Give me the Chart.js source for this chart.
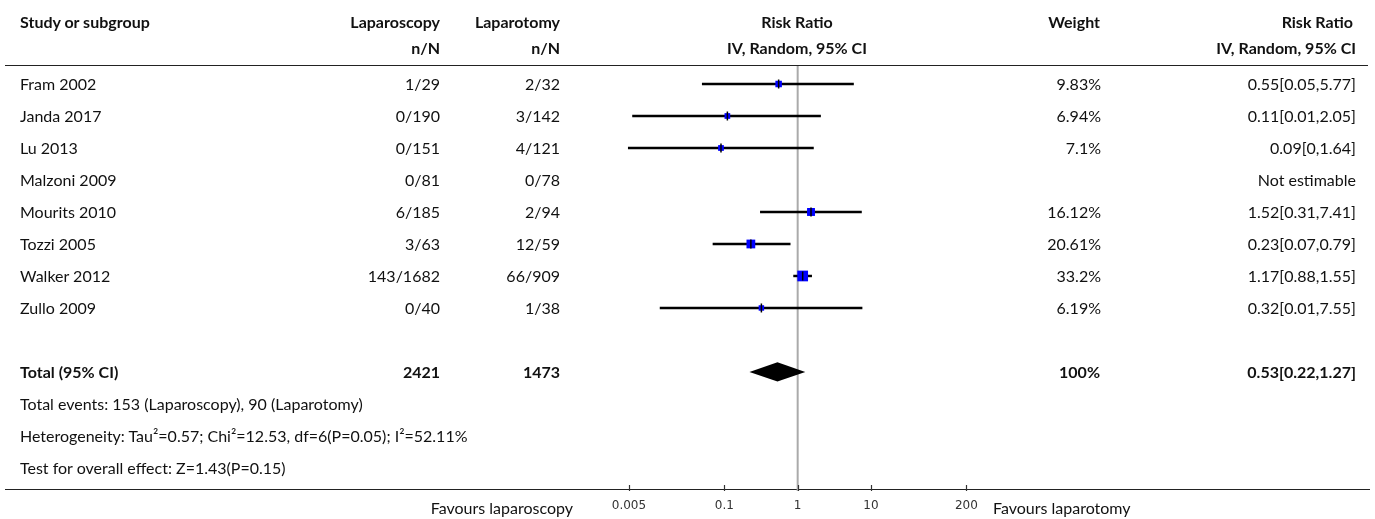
<!DOCTYPE html>
<html>
<head>
<meta charset="utf-8">
<script src="https://cdn.jsdelivr.net/npm/chart.js@4/dist/chart.umd.min.js"></script>
<style>
  body { margin: 0; background: #fff; }
  #wrap { position: relative; width: 1375px; height: 519px; overflow: hidden; font-family: Lato, "Noto Sans", sans-serif; font-size: 16px; color: #111; }
  #plot { position: absolute; left: 0; top: 0; }
  .t { position: absolute; height: 20px; line-height: 20px; white-space: nowrap; }
  .b { font-weight: bold; }
  .hr { position: absolute; height: 0; border-top: 1.5px solid #222; }
</style>
</head>
<body>
<div id="wrap">
  <div class="hr" style="left:5px;width:1363px;top:65px"></div>
  <div class="hr" style="left:5px;width:1365px;top:489px"></div>
  <canvas id="plot" width="1375" height="519"></canvas>
</div>
<script>
const studies = ["Fram 2002", "Janda 2017", "Lu 2013", "Malzoni 2009", "Mourits 2010", "Tozzi 2005", "Walker 2012", "Zullo 2009"];
const lapEvents = [1, 0, 0, 0, 6, 3, 143, 0];
const lapTotal = [29, 190, 151, 81, 185, 63, 1682, 40];
const tomyEvents = [2, 3, 4, 0, 2, 12, 66, 1];
const tomyTotal = [32, 142, 121, 78, 94, 59, 909, 38];
const weights = [9.83, 6.94, 7.1, null, 16.12, 20.61, 33.2, 6.19];
const riskRatio = [0.55, 0.11, 0.09, null, 1.52, 0.23, 1.17, 0.32];
const ciLow = [0.05, 0.0056, 0.0049, null, 0.31, 0.07, 0.88, 0.0133];
const ciHigh = [5.77, 2.05, 1.64, null, 7.41, 0.79, 1.55, 7.55];
const xTicks = [0.005, 0.1, 1, 10, 200];

const total = { lap: 2421, tomy: 1473, weight: 100, rr: 0.53, low: 0.22, high: 1.27 };
const totalRow = 9;
const footLines = [
  "Total events: 153 (Laparoscopy), 90 (Laparotomy)",
  "Heterogeneity: Tau\u00b2=0.57; Chi\u00b2=12.53, df=6(P=0.05); I\u00b2=52.11%",
  "Test for overall effect: Z=1.43(P=0.15)"
];

const fmt = (v) => String(Number(v.toFixed(2)));
const ciText = (i) => riskRatio[i] === null ? "Not estimable"
  : `${fmt(riskRatio[i])}[${fmt(ciLow[i])},${fmt(ciHigh[i])}]`;

const rows = studies.map((s, i) => i);
const withData = rows.filter((i) => riskRatio[i] !== null);

// plugin: referentielijn, tickjes en diamant
const forestExtras = {
  id: "forestExtras",
  beforeDatasetsDraw(chart) {
    const { ctx, chartArea, scales } = chart;
    const x1 = scales.x.getPixelForValue(1);
    ctx.save();
    ctx.strokeStyle = "#aaaaaa";
    ctx.lineWidth = 2;
    ctx.beginPath();
    ctx.moveTo(x1, chartArea.top);
    ctx.lineTo(x1, chartArea.bottom);
    ctx.stroke();
    ctx.restore();
  },
  afterDatasetsDraw(chart) {
    const { ctx, chartArea, scales } = chart;
    const x = scales.x, y = scales.y;
    ctx.save();
    ctx.strokeStyle = "#333";
    ctx.lineWidth = 1.2;
    xTicks.forEach((v) => {
      const px = Math.round(x.getPixelForValue(v)) + 0.5;
      ctx.beginPath();
      ctx.moveTo(px, chartArea.bottom - 6);
      ctx.lineTo(px, chartArea.bottom);
      ctx.stroke();
    });
    ctx.fillStyle = "#000";
    ctx.beginPath();
    ctx.moveTo(x.getPixelForValue(total.low), y.getPixelForValue(totalRow));
    ctx.lineTo(x.getPixelForValue(total.rr), y.getPixelForValue(totalRow - 0.3));
    ctx.lineTo(x.getPixelForValue(total.high), y.getPixelForValue(totalRow));
    ctx.lineTo(x.getPixelForValue(total.rr), y.getPixelForValue(totalRow + 0.3));
    ctx.closePath();
    ctx.fill();
    ctx.restore();
  }
};

const chart = new Chart(document.getElementById("plot"), {
  type: "bar",
  data: {
    datasets: [
      {
        type: "bar",
        data: withData.map((i) => ({ x: [ciLow[i], ciHigh[i]], y: i })),
        backgroundColor: "#000",
        barThickness: 1.8,
        order: 3,
      },
      {
        type: "scatter",
        data: withData.map((i) => ({ x: riskRatio[i], y: i })),
        pointStyle: "rect",
        pointRadius: withData.map((i) => (1.6 * Math.sqrt(weights[i]) + 1.5) / 1.414),
        backgroundColor: "#0000ff",
        borderWidth: 0,
        order: 2,
      },
      {
        type: "scatter",
        data: withData.map((i) => ({ x: riskRatio[i], y: i })),
        pointStyle: "line",
        rotation: 90,
        pointRadius: 4.5,
        borderColor: "#000",
        borderWidth: 1.5,
        order: 1,
      },
    ],
  },
  options: {
    indexAxis: "y",
    responsive: false,
    animation: false,
    events: [],
    layout: { padding: { left: 617, right: 404, top: 66, bottom: 0 } },
    plugins: { legend: { display: false }, tooltip: { enabled: false } },
    scales: {
      x: {
        type: "logarithmic",
        min: 0.003437,
        max: 231,
        grid: { display: false, drawTicks: false },
        border: { display: false },
        ticks: {
          autoSkip: false,
          maxRotation: 0,
          padding: 8,
          color: "#333",
          font: { family: "'DejaVu Sans'", size: 12 },
          callback: (v) => String(v),
        },
        afterBuildTicks: (scale) => { scale.ticks = xTicks.map((v) => ({ value: v })); },
        afterFit: (scale) => { scale.height = 28; },
      },
      y: {
        type: "linear",
        display: false,
        offset: false,
        reverse: true,
        min: -0.5625,
        max: 12.72,
      },
    },
  },
  plugins: [forestExtras],
});

// tekst als HTML, rijen via de y-schaal
const wrap = document.getElementById("wrap");
function tekst(str, x, cy, align, bold) {
  const d = document.createElement("div");
  d.className = "t" + (bold ? " b" : "");
  d.textContent = str;
  d.style.top = (cy - 10) + "px";
  if (align === "right") { d.style.left = (x - 400) + "px"; d.style.width = "400px"; d.style.textAlign = "right"; }
  else if (align === "center") { d.style.left = (x - 200) + "px"; d.style.width = "400px"; d.style.textAlign = "center"; }
  else d.style.left = x + "px";
  wrap.appendChild(d);
}

const ys = chart.scales.y;
const rowY = (r) => ys.getPixelForValue(r);

tekst("Study or subgroup", 20, 22, "left", true);
tekst("Laparoscopy", 440, 22, "right", true);
tekst("n/N", 440, 48, "right", true);
tekst("Laparotomy", 560, 22, "right", true);
tekst("n/N", 560, 48, "right", true);
tekst("Risk Ratio", 797, 22, "center", true);
tekst("IV, Random, 95% CI", 797, 48, "center", true);
tekst("Weight", 1100, 22, "right", true);
tekst("Risk Ratio", 1353, 22, "right", true);
tekst("IV, Random, 95% CI", 1356, 48, "right", true);

rows.forEach((i) => {
  const cy = rowY(i);
  tekst(studies[i], 20, cy, "left");
  tekst(`${lapEvents[i]}/${lapTotal[i]}`, 440, cy, "right");
  tekst(`${tomyEvents[i]}/${tomyTotal[i]}`, 560, cy, "right");
  if (weights[i] !== null) tekst(`${weights[i]}%`, 1101, cy, "right");
  tekst(ciText(i), 1356, cy, "right");
});

const ty = rowY(totalRow);
tekst("Total (95% CI)", 20, ty, "left", true);
tekst(String(total.lap), 440, ty, "right", true);
tekst(String(total.tomy), 560, ty, "right", true);
tekst(`${total.weight}%`, 1100, ty, "right", true);
tekst(`${fmt(total.rr)}[${fmt(total.low)},${fmt(total.high)}]`, 1356, ty, "right", true);

footLines.forEach((l, k) => tekst(l, 20, rowY(totalRow + 1 + k), "left"));

tekst("Favours laparoscopy", 573, 508, "right");
tekst("Favours laparotomy", 993, 508, "left");
</script>
</body>
</html>
